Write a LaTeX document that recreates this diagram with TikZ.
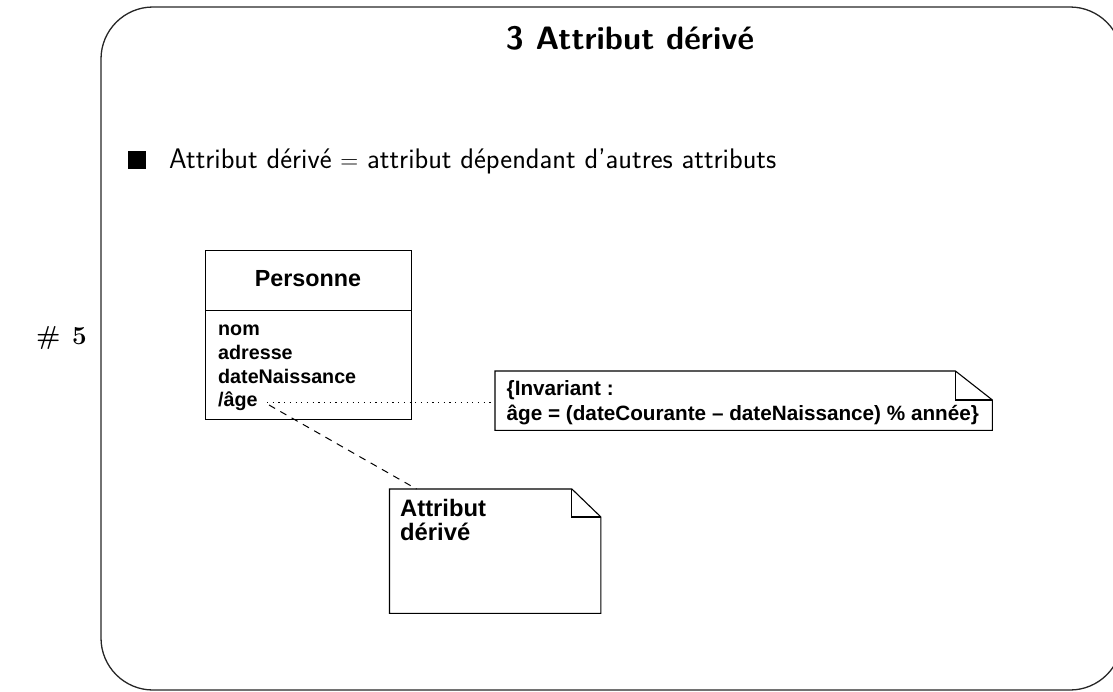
\documentclass[tikz,border=0pt]{standalone}
\usepackage{fontspec}
\newfontfamily\arialfont{Liberation Sans}
\usetikzlibrary{calc}
\tikzset{
  frame/.style={draw=black!85, line width=1.3pt, rounded corners=52pt},
  umlbox/.style={draw, line width=1.1pt, inner sep=0pt, anchor=north west},
  umltxt/.style={inner sep=0pt, anchor=base west, font=\arialfont\bfseries\fontsize{19.7}{24}\selectfont},
  notetxt/.style={inner sep=0pt, anchor=base west, font=\arialfont\bfseries\fontsize{20.7}{25}\selectfont},
  notebig/.style={inner sep=0pt, anchor=base west, font=\arialfont\bfseries\fontsize{23.8}{24}\selectfont},
  notebody/.style={inner sep=0pt, anchor=north west},
  noteline/.style={draw, line width=1.1pt},
  dotline/.style={line width=1pt, dash pattern=on 1.2pt off 4.5pt},
  dashline/.style={line width=1pt, dash pattern=on 7pt off 6pt},
}
\begin{document}
\begin{tikzpicture}[x=1pt,y=-1pt]
\useasboundingbox (0,0) rectangle (1113,691);
% frame
\draw[frame] (101,7) rectangle (1122,690);
% page number
\node[inner sep=0pt, anchor=base east, font=\bfseries\fontsize{26}{30}\selectfont] (num) at (87,344) {\#\hspace{0.45em}5};
% title
\node[inner sep=0pt, anchor=base, font=\sffamily\bfseries\fontsize{32.4}{38}\selectfont] (title) at (630,49.3) {3 Attribut dérivé};
% bullet
\node[fill, inner sep=0pt, minimum size=18.5pt] (bul) at (137,160) {};
\node[inner sep=0pt, anchor=base west, font=\sffamily\fontsize{28.3}{34}\selectfont] (btext) at (169,168) {Attribut dérivé $=$ attribut dépendant d'autres attributs};
% class box
\node[umlbox, minimum width=206pt, minimum height=169pt] (cls) at (205,250) {};
\draw[line width=1.1pt] (cls.west |- 0,310.5) coordinate (divl) -- (cls.east |- divl) coordinate (divr);
\node[inner sep=0pt, anchor=base, font=\arialfont\bfseries\fontsize{23.3}{28}\selectfont] (cname) at (308,286.7) {Personne};
\node[umltxt] (a1) at (218,335) {nom};
\node[umltxt] (a2) at (218,359) {adresse};
\node[umltxt] (a3) at (218,383) {dateNaissance};
\node[umltxt] (a4) at (218,406) {/âge};
\coordinate (agedot) at (267,402);
\coordinate (agedash) at (269,405);
% invariant note
\node[notebody, minimum width=497pt, minimum height=59pt] (inv) at (495,371) {};
\draw[noteline] (inv.north west) -- ($(inv.north east)+(-37,0)$) coordinate (invf) -- ($(inv.north east)+(0,29)$) coordinate (invg) -- (inv.south east) -- (inv.south west) -- cycle;
\draw[noteline] (invf) -- (invf |- invg) -- (invg);
\node[notetxt] (inv1) at (506.5,395) {\{Invariant :};
\node[notetxt] (inv2) at (506.5,420) {âge = (dateCourante – dateNaissance) \% année\}};
% derived note
\node[notebody, minimum width=211pt, minimum height=124pt] (der) at (389.5,489) {};
\draw[noteline] (der.north west) -- ($(der.north east)+(-29,0)$) coordinate (derf) -- ($(der.north east)+(0,28)$) coordinate (derg) -- (der.south east) -- (der.south west) -- cycle;
\draw[noteline] (derf) -- (derf |- derg) -- (derg);
\node[notebig] (der1) at (400,516.7) {Attribut};
\node[notebig] (der2) at (400,540) {dérivé};
% connectors
\draw[dotline] (agedot) -- (agedot -| inv.west);
\draw[dashline] (agedash) -- ($(der.north west)+(27,0)$);
\end{tikzpicture}
\end{document}
